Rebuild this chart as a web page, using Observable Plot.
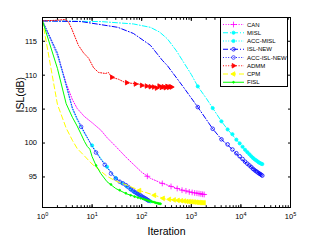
<!DOCTYPE html>
<html><head><meta charset="utf-8">
<script src="https://cdn.jsdelivr.net/npm/d3@7"></script>
<script src="https://cdn.jsdelivr.net/npm/@observablehq/plot@0.6"></script>
<style>body{margin:0;background:#fff;} svg{display:block;}</style>
</head><body><div id="chart"></div>
<script>
// ---------- data ----------
const seriesNames = ["CAN","MISL","ACC-MISL","ISL-NEW","ACC-ISL-NEW","ADMM","CPM","FISL"];

const canIter = [1, 2, 3, 4, 5, 7, 10, 15, 20, 30, 50, 100, 150, 250, 400, 700, 1000, 1900];
const canISL  = [118.0, 112.9, 108.8, 106.4, 105.1, 103.9, 103.0, 101.9, 100.8, 99.5, 97.8, 95.7, 94.8, 94.1, 93.6, 93.0, 92.75, 92.4];
const canMarkIter = [130, 260, 390, 520, 650, 780, 910, 1040, 1170, 1300, 1430, 1560, 1690, 1820];
const canMarkISL  = [95.1, 94.05, 93.6, 93.3, 93.05, 92.95, 92.8, 92.72, 92.65, 92.6, 92.55, 92.5, 92.45, 92.42];

const mislIter = [1, 15, 68, 150, 230, 330, 500, 700, 1000, 1350, 2000, 2700, 4050, 5400, 8100, 12150, 18900, 27000];
const mislISL  = [118.0, 117.9, 117.55, 117.05, 116.35, 115.35, 113.6, 111.9, 110.1, 108.35, 106.6, 105.15, 103.2, 102.0, 100.5, 99.0, 97.6, 96.9];
const mislMarkIter = [1350, 2700, 4050, 5400, 6750, 8100, 9450, 10800, 12150, 13500, 14850, 16200, 17550, 18900, 20250, 21600, 22950, 24300, 25650, 27000];
const mislMarkISL  = [108.35, 105.15, 103.2, 102.0, 101.3, 100.5, 99.95, 99.45, 99.0, 98.65, 98.35, 98.05, 97.8, 97.6, 97.45, 97.3, 97.15, 97.05, 96.95, 96.9];

const accMislIter = [1, 2, 3, 4, 5, 7, 10, 15, 20, 30, 50, 80, 100, 150];
const accMislISL  = [118.0, 113.0, 108.4, 105.0, 103.4, 101.4, 99.65, 97.75, 96.5, 94.85, 93.6, 92.55, 92.05, 91.4];
const accMislMarkIter = [10, 20, 30, 40, 50, 60, 70, 80, 90, 100, 110, 120, 130, 140, 150];
const accMislMarkISL  = [99.65, 96.5, 94.85, 94.1, 93.6, 93.15, 92.8, 92.55, 92.3, 92.05, 91.9, 91.75, 91.6, 91.5, 91.4];

const islIter = [1, 6, 15, 33, 68, 150, 260, 330, 700, 1350, 2700, 4050, 6750, 9800, 16200, 27000];
const islISL  = [118.0, 117.9, 117.45, 117.05, 116.15, 114.4, 112.2, 111.4, 108.2, 105.3, 102.1, 100.55, 99.05, 97.75, 96.45, 95.2];
const islMarkIter = [1350, 2700, 4050, 5400, 6750, 8100, 9450, 10800, 12150, 13500, 14850, 16200, 17550, 18900, 20250, 21600, 22950, 24300, 25650, 27000];
const islMarkISL  = [105.3, 102.1, 100.55, 99.8, 99.05, 98.5, 98.05, 97.65, 97.25, 96.95, 96.7, 96.45, 96.2, 96.0, 95.85, 95.7, 95.55, 95.45, 95.32, 95.2];

const accIslIter = [1, 2, 3, 4, 5, 7, 10, 15, 20, 30, 50, 80, 100, 140];
const accIslISL  = [118.0, 113.3, 108.6, 105.2, 103.6, 101.6, 99.5, 97.6, 96.4, 94.75, 93.75, 92.6, 92.15, 91.5];
const accIslMarkIter = [6, 12, 18, 24, 30, 36, 42, 48, 54, 60, 66, 72, 78, 84, 90, 96, 102, 108, 114, 120, 126, 132, 138];
const accIslMarkISL  = [102.4, 98.6, 96.8, 95.5, 94.75, 94.3, 94.05, 93.8, 93.5, 93.2, 93.0, 92.8, 92.65, 92.5, 92.4, 92.25, 92.1, 92.0, 91.9, 91.8, 91.7, 91.6, 91.5];

const admmIter = [1, 2, 2.8, 3.3, 3.8, 4.6, 5.3, 6.7, 8.5, 10.7, 13.5, 18.6, 21.4, 24.6, 34, 47, 86, 100, 130, 158, 200, 240, 280, 316, 360, 420];
const admmISL  = [118.0, 118.1, 118.2, 117.9, 117.0, 115.5, 114.4, 113.3, 112.5, 111.1, 110.4, 110.25, 110.4, 109.7, 109.4, 108.9, 108.7, 108.5, 108.2, 108.35, 108.1, 108.4, 108.15, 108.3, 108.1, 108.3];
const admmMarkIter = [25, 50, 75, 100, 125, 150, 175, 200, 225, 250, 275, 300, 325, 350, 375, 400];
const admmMarkISL  = [109.7, 108.9, 108.7, 108.5, 108.4, 108.3, 108.25, 108.1, 108.4, 108.2, 108.3, 108.15, 108.35, 108.2, 108.3, 108.25];

const cpmIter = [1, 2, 3, 4, 5, 7, 10, 15, 20, 30, 50, 100, 200, 300, 500, 1000, 1800];
const cpmISL  = [118.0, 105.7, 102.2, 100.4, 99.2, 98.1, 96.9, 95.85, 95.1, 94.4, 93.8, 92.9, 92.2, 91.75, 91.6, 91.35, 91.2];
const cpmMarkIter = [90, 180, 270, 360, 450, 540, 630, 720, 810, 900, 990, 1080, 1170, 1260, 1350, 1440, 1530, 1620, 1710, 1800];
const cpmMarkISL  = [93.0, 92.3, 91.85, 91.7, 91.62, 91.55, 91.5, 91.45, 91.4, 91.37, 91.35, 91.32, 91.3, 91.28, 91.26, 91.24, 91.22, 91.21, 91.2, 91.2];

const fislIter = [1, 2, 3, 4, 5, 6, 7, 8, 9, 10, 12, 15, 20, 30, 50, 100, 150, 240];
const fislISL  = [118.0, 111.0, 105.8, 103.8, 102.5, 101.3, 100.25, 99.5, 99.1, 98.0, 96.7, 95.5, 94.3, 93.3, 92.5, 91.8, 91.4, 91.05];
const fislMarkIter = [12, 24, 36, 48, 60, 72, 84, 96, 108, 120, 132, 144, 156, 168, 180, 192, 204, 216, 228, 240];
const fislMarkISL  = [96.7, 93.9, 93.05, 92.6, 92.3, 92.1, 91.97, 91.85, 91.75, 91.65, 91.55, 91.47, 91.4, 91.33, 91.27, 91.2, 91.15, 91.1, 91.07, 91.05];

const xMajorTicks = [1, 10, 100, 1000, 10000, 100000];
const yTicks = [95, 100, 105, 110, 115];
const xLabel = "Iteration";
const yLabel = "ISL(dB)";

// ---------- assemble ----------
const lineData = {
  "CAN": [canIter, canISL], "MISL": [mislIter, mislISL], "ACC-MISL": [accMislIter, accMislISL],
  "ISL-NEW": [islIter, islISL], "ACC-ISL-NEW": [accIslIter, accIslISL], "ADMM": [admmIter, admmISL],
  "CPM": [cpmIter, cpmISL], "FISL": [fislIter, fislISL]
};
const markData = {
  "CAN": [canMarkIter, canMarkISL], "MISL": [mislMarkIter, mislMarkISL], "ACC-MISL": [accMislMarkIter, accMislMarkISL],
  "ISL-NEW": [islMarkIter, islMarkISL], "ACC-ISL-NEW": [accIslMarkIter, accIslMarkISL], "ADMM": [admmMarkIter, admmMarkISL],
  "CPM": [cpmMarkIter, cpmMarkISL], "FISL": [fislMarkIter, fislMarkISL]
};
const styles = {
  "CAN":         {color: "#ff00ff", dash: "1,1.6", symbol: "plus", r: 2.0, fill: "none", rotate: 0},
  "MISL":        {color: "#00ffff", dash: "5,2,1,2", symbol: "circle", r: 1.6, fill: "#00ffff", rotate: 0},
  "ACC-MISL":    {color: "#00ffff", dash: "1,1.6", symbol: "circle", r: 1.6, fill: "#00ffff", rotate: 0},
  "ISL-NEW":     {color: "#0000ff", dash: "5,2,1,2", symbol: "circle", r: 1.8, fill: "none", rotate: 0},
  "ACC-ISL-NEW": {color: "#2a2aff", dash: "1,1.6", symbol: "circle", r: 1.8, fill: "none", rotate: 0},
  "ADMM":        {color: "#ff0000", dash: "1,1.6", symbol: "triangle", r: 1.7, fill: "#ff0000", rotate: 90},
  "CPM":         {color: "#ffff00", dash: "5,3", symbol: "triangle", r: 1.7, fill: "#ffff00", rotate: -90},
  "FISL":        {color: "#00ff00", dash: null, symbol: "circle", r: 0.9, fill: "#00ff00", rotate: 0}
};

const seriesMarks = [];
for (const name of seriesNames) {
  const [xi, yi] = lineData[name];
  const rows = xi.map((x, i) => ({x, y: yi[i]}));
  const [mx, my] = markData[name];
  const mrows = mx.map((x, i) => ({x, y: my[i]}));
  const st = styles[name];
  seriesMarks.push(Plot.line(rows, {x: "x", y: "y", stroke: st.color, strokeWidth: 1, strokeDasharray: st.dash, clip: true}));
  seriesMarks.push(Plot.dot(mrows, {x: "x", y: "y", symbol: st.symbol, r: st.r, stroke: st.color, fill: st.fill, strokeWidth: 0.8, rotate: st.rotate, clip: true}));
}

const plot = Plot.plot({
  width: 321, height: 241,
  marginLeft: 42, marginRight: 31, marginTop: 17, marginBottom: 34,
  style: {fontFamily: "'Liberation Sans', Arial, Helvetica, sans-serif", fontSize: "7.5px", background: "#fff", color: "#000"},
  x: {type: "log", domain: [1, 1e5]},
  y: {domain: [90.5, 118.5]},
  marks: [
    ...seriesMarks,
    Plot.axisX({anchor: "bottom", ticks: 10, tickSize: -1.8, tickFormat: () => "", label: null}),
    Plot.axisX({anchor: "top", ticks: 10, tickSize: -1.8, tickFormat: () => "", label: null}),
    Plot.axisX({anchor: "bottom", ticks: xMajorTicks, tickSize: -3, tickPadding: 9.5, tickFormat: d => "10^" + Math.round(Math.log10(d)), label: null}),
    Plot.axisX({anchor: "top", ticks: xMajorTicks, tickSize: -3, tickFormat: () => "", label: null}),
    Plot.axisY({anchor: "left", ticks: yTicks, tickSize: -3, tickPadding: 8.5, label: null}),
    Plot.axisY({anchor: "right", ticks: yTicks, tickSize: -3, tickFormat: () => "", label: null}),
    Plot.frame({stroke: "#000", strokeWidth: 1}),
    Plot.text([yLabel], {text: d => d, frameAnchor: "left", dx: -22, rotate: -90, fontSize: 10.5}),
    Plot.text([xLabel], {text: d => d, frameAnchor: "bottom", dy: 27, fontSize: 10.5})
  ]
});

// superscript exponents for the x tick labels
d3.select(plot).selectAll("text").each(function() {
  const t = this.textContent;
  if (/^10\^\d$/.test(t)) {
    const [base, ex] = t.split("^");
    const sel = d3.select(this);
    sel.text("");
    sel.append("tspan").text(base);
    sel.append("tspan").attr("dy", "-3.2").attr("font-size", "5.5px").text(ex);
  }
});

// legend (MATLAB-style box, inside the axes)
const lg = d3.select(plot).append("g")
  .attr("font-family", "'Liberation Sans', Arial, sans-serif").attr("font-size", "6px").attr("text-anchor", "start");
lg.append("rect").attr("x", 220.5).attr("y", 17.5).attr("width", 67).attr("height", 69)
  .attr("fill", "#fff").attr("stroke", "#000").attr("stroke-width", 1);
const symMap = {plus: d3.symbolPlus, circle: d3.symbolCircle, triangle: d3.symbolTriangle};
seriesNames.forEach((name, i) => {
  const st = styles[name];
  const y = 24.5 + i * 8.25;
  lg.append("line").attr("x1", 223).attr("x2", 244).attr("y1", y).attr("y2", y)
    .attr("stroke", st.color).attr("stroke-width", 1).attr("stroke-dasharray", st.dash);
  lg.append("path").attr("d", d3.symbol(symMap[st.symbol], Math.PI * st.r * st.r)())
    .attr("transform", `translate(233.5,${y}) rotate(${st.rotate})`)
    .attr("fill", st.fill).attr("stroke", st.color).attr("stroke-width", 0.8);
  lg.append("text").attr("x", 247).attr("y", y).attr("dy", "0.35em").attr("fill", "#000")
    .attr("text-anchor", "start").text(name);
});

document.getElementById("chart").appendChild(plot);
</script>
</body></html>
